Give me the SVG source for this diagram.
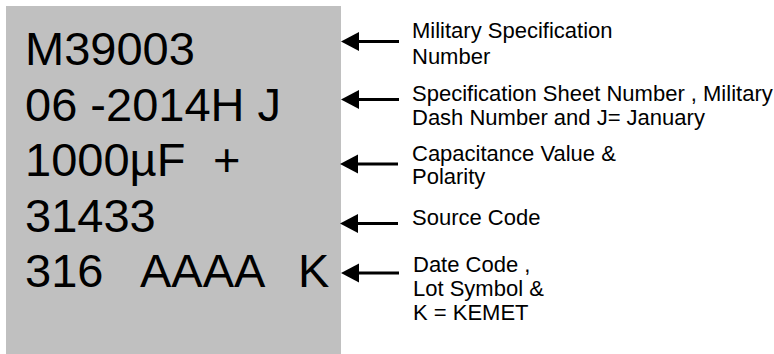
<svg xmlns="http://www.w3.org/2000/svg" width="774" height="354" viewBox="0 0 774 354">
  <style>
    .panel { fill: #c0c0c0; }
    .mark { font-family: "Liberation Sans", Arial, sans-serif; font-size: 47px; fill: #000; }
    .label { font-family: "Liberation Sans", Arial, sans-serif; font-size: 22px; fill: #000; }
    .lead { stroke: #000; stroke-width: 3; fill: none; marker-end: url(#head); }
  </style>
  <defs>
    <marker id="head" markerUnits="userSpaceOnUse" markerWidth="18" markerHeight="20" refX="7" refY="9.5" orient="auto" viewBox="0 0 18 19">
      <path d="M0,0 L18,9.5 L0,19 Z" fill="#000"/>
    </marker>
  </defs>

  <!-- capacitor body marking -->
  <g id="marking">
    <rect class="panel" x="6" y="6" width="335" height="348"/>
    <text class="mark" x="25" y="65">M39003</text>
    <text class="mark" x="25" y="120.5">06 -2014H J</text>
    <text class="mark" x="25" y="176">1000µF<tspan x="213">+</tspan></text>
    <text class="mark" x="25" y="231.5">31433</text>
    <text class="mark" x="25" y="287" xml:space="preserve">316   AAAA<tspan x="298">K</tspan></text>
  </g>

  <!-- leader arrows -->
  <g id="connectors">
    <line class="lead" x1="399" y1="41.5" x2="352" y2="41.5"/>
    <line class="lead" x1="399" y1="99.5" x2="352" y2="99.5"/>
    <line class="lead" x1="398" y1="164" x2="351" y2="164"/>
    <line class="lead" x1="398" y1="223.5" x2="351" y2="223.5"/>
    <line class="lead" x1="399" y1="273" x2="352" y2="273"/>
  </g>

  <g id="label-mil-spec">
    <text class="label" x="412" y="38">Military Specification</text>
    <text class="label" x="412" y="64">Number</text>
  </g>
  <g id="label-sheet">
    <text class="label" x="412" y="101">Specification Sheet Number , Military</text>
    <text class="label" x="412" y="125">Dash Number and J= January</text>
  </g>
  <g id="label-capacitance">
    <text class="label" x="412" y="161">Capacitance Value &amp;</text>
    <text class="label" x="412" y="184">Polarity</text>
  </g>
  <g id="label-source">
    <text class="label" x="412" y="225">Source Code</text>
  </g>
  <g id="label-date">
    <text class="label" x="413" y="272">Date Code ,</text>
    <text class="label" x="413" y="296">Lot Symbol &amp;</text>
    <text class="label" x="413" y="320">K = KEMET</text>
  </g>
</svg>
